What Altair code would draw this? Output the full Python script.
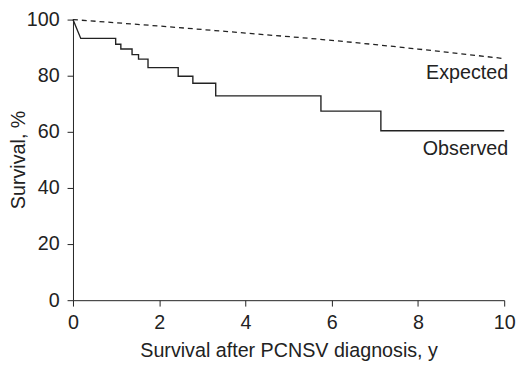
import altair as alt
import pandas as pd

# Observed Kaplan-Meier curve: first drop point, then step times and levels
obs_start_time = [0.0, 0.18]
obs_start_surv = [100.0, 93.3]
step_times = [0.99, 1.11, 1.37, 1.52, 1.74, 2.44, 2.78, 3.31, 5.75, 7.14]
step_surv = [91.2, 89.5, 87.5, 85.9, 82.9, 79.8, 77.3, 72.8, 67.4, 60.4]
obs_end_time = 10.0

# Expected survival
exp_time = [0, 2, 4, 6, 8, 10]
exp_surv = [100.0, 97.7, 95.2, 92.6, 89.5, 86.1]

# Labels
label_text = ["Expected", "Observed"]
label_x = [10, 10]
label_y = [80.8, 53.9]

# Build step vertices
xs = list(obs_start_time)
ys = list(obs_start_surv)
prev = obs_start_surv[-1]
for t, s in zip(step_times, step_surv):
    xs += [t, t]
    ys += [prev, s]
    prev = s
xs.append(obs_end_time)
ys.append(prev)
obs_df = pd.DataFrame({"t": xs, "s": ys, "o": range(len(xs))})
exp_df = pd.DataFrame({"t": exp_time, "s": exp_surv})
lab_df = pd.DataFrame({"text": label_text, "t": label_x, "s": label_y})

FONT = "Liberation Sans"
FS = 20

xscale = alt.Scale(domain=[0, 10], nice=False)
yscale = alt.Scale(domain=[0, 100], nice=False)

xaxis = alt.Axis(values=[0, 2, 4, 6, 8, 10], title="Survival after PCNSV diagnosis, y",
                 grid=False, labelFontSize=FS, titleFontSize=FS, titleFontWeight="normal",
                 labelFont=FONT, titleFont=FONT, labelColor="#222", titleColor="#222",
                 domainColor="#222", tickColor="#222", tickSize=6, labelPadding=7,
                 titlePadding=8, labelFlush=False)
yaxis = alt.Axis(values=[0, 20, 40, 60, 80, 100], title="Survival, %",
                 grid=False, labelFontSize=FS, titleFontSize=FS, titleFontWeight="normal",
                 labelFont=FONT, titleFont=FONT, labelColor="#222", titleColor="#222",
                 domainColor="#222", tickColor="#222", tickSize=6, labelPadding=8,
                 titleX=-45, titleY=142)

obs = alt.Chart(obs_df).mark_line(color="#222", strokeWidth=1.4).encode(
    x=alt.X("t:Q", scale=xscale, axis=xaxis),
    y=alt.Y("s:Q", scale=yscale, axis=yaxis),
    order="o:Q",
)
exp = alt.Chart(exp_df).mark_line(color="#222", strokeWidth=1.3, strokeDash=[5, 4],
                                  interpolate="monotone").encode(
    x=alt.X("t:Q", scale=xscale),
    y=alt.Y("s:Q", scale=yscale),
)
labels = alt.Chart(lab_df).mark_text(align="right", baseline="middle", font=FONT,
                                     fontSize=FS, color="#222", dx=4).encode(
    x=alt.X("t:Q", scale=xscale),
    y=alt.Y("s:Q", scale=yscale),
    text="text:N",
)

chart = alt.layer(exp, obs, labels).properties(
    width=438, height=285,
    autosize=alt.AutoSizeParams(type="none"),
    padding={"left": 66, "top": 9, "right": 13, "bottom": 60},
).configure_view(stroke=None)

chart.save("out.html", embed_options={"renderer": "svg", "actions": False})
